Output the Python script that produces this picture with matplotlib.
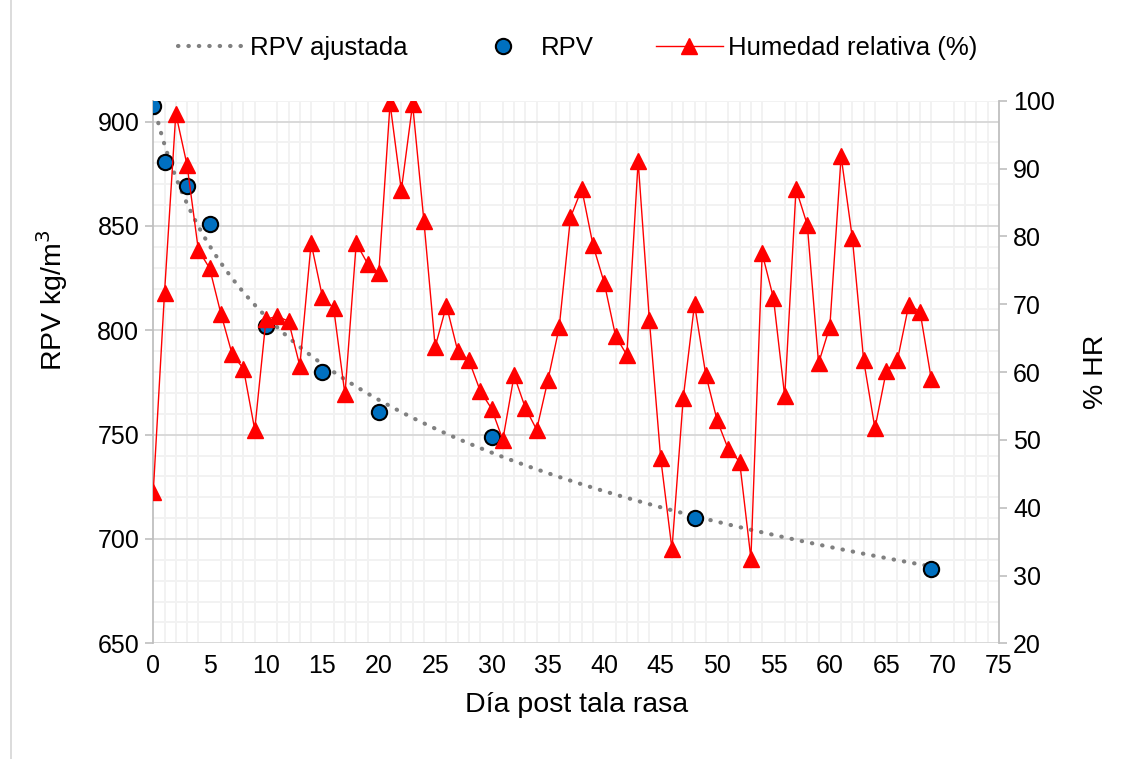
import numpy as np
import matplotlib
matplotlib.use("Agg")
import matplotlib.pyplot as plt
from matplotlib.lines import Line2D

plt.rcParams['font.family'] = ['Liberation Sans', 'DejaVu Sans']

# RPV measurements (kg/m3)
rpv_days = [0, 1, 3, 5, 10, 15, 20, 30, 48, 69]
rpv_vals = [907.6, 880.4, 868.9, 850.8, 802.0, 780.0, 761.0, 749.0, 710.2, 685.4]

# daily relative humidity (%)
hr_days = list(range(0, 70))
hr_vals = [42.3, 71.7, 98.1, 90.5, 78.0, 75.3, 68.6, 62.6, 60.5, 51.5,
           67.8, 68.2, 67.5, 60.9, 79.0, 71.1, 69.4, 56.7, 79.0, 76.0,
           74.6, 99.6, 86.8, 99.5, 82.3, 63.7, 69.8, 63.1, 61.7, 57.2,
           54.6, 50.0, 59.5, 54.7, 51.5, 58.8, 66.6, 82.8, 87.0, 78.7,
           73.1, 65.3, 62.5, 91.1, 67.6, 47.3, 33.9, 56.2, 70.0, 59.6,
           52.9, 48.6, 46.8, 32.5, 77.5, 70.9, 56.4, 87.0, 81.7, 61.3,
           66.7, 91.8, 79.7, 61.7, 51.7, 60.1, 61.8, 69.9, 68.9, 58.9]

# logarithmic trend of RPV, fitted on the measurements
lx = np.log(np.array(rpv_days) + 3.0)
b, a = np.polyfit(lx, rpv_vals, 1)
fit_x = np.linspace(0, 69, 300)
fit_y = a + b * np.log(fit_x + 3.0)

dot_style = (0, (0.1, 2.4))

fig = plt.figure(figsize=(11.26, 7.59), dpi=100)
ax = fig.add_axes([0.1361, 0.1524, 0.8872 - 0.1361, 0.8673 - 0.1524])
ax2 = ax.twinx()

# grid
for v in np.arange(650, 911, 10):
    if v % 50 == 0:
        ax.axhline(v, color='#d9d9d9', lw=1.4, zorder=0.5)
    else:
        ax.axhline(v, color='#f2f2f2', lw=1.4, zorder=0.4)
for d in range(1, 75):
    if d % 5 != 0:
        ax.axvline(d, color='#f2f2f2', lw=1.4, zorder=0.4)

ax.plot(fit_x, fit_y, color='#808080', lw=3.0, linestyle=dot_style,
        dash_capstyle='round', zorder=3)
ax.plot(rpv_days, rpv_vals, 'o', ms=11, mfc='#0070c0', mec='black', mew=1.5,
        zorder=5)
ax2.plot(hr_days, hr_vals, color='#ff0000', lw=1.0, marker='^', ms=11,
         mfc='#ff0000', mec='#ff0000', zorder=4)

ax.set_xlim(0, 75)
ax.set_ylim(650, 910)
ax2.set_ylim(20, 100)
ax.set_xticks(range(0, 76, 5))
ax.set_yticks(range(650, 901, 50))
ax2.set_yticks(range(20, 101, 10))

for s in ['top', 'bottom', 'right']:
    ax.spines[s].set_visible(False)
for s in ['top', 'bottom', 'left']:
    ax2.spines[s].set_visible(False)
ax.spines['left'].set_color('#bfbfbf')
ax.spines['left'].set_linewidth(1.3)
ax2.spines['right'].set_color('#bfbfbf')
ax2.spines['right'].set_linewidth(1.3)

ax.tick_params(axis='y', colors='#bfbfbf', labelcolor='black', labelsize=18,
               length=6, width=1.2, pad=4)
ax.tick_params(axis='x', length=0, labelsize=18, pad=8)
ax2.tick_params(axis='y', colors='#bfbfbf', labelcolor='black', labelsize=18,
                length=6, width=1.2, pad=4)

ax.set_xlabel('Día post tala rasa', fontsize=20.5, labelpad=10)
ax.set_ylabel('RPV kg/m$^3$', fontsize=20.5)
ax.yaxis.set_label_coords(-0.098, 0.633)
ax2.set_ylabel('% HR', fontsize=20.5, labelpad=20)

handles = [
    Line2D([], [], color='#808080', lw=3.0, linestyle=dot_style,
           dash_capstyle='round'),
    Line2D([], [], ls='none', marker='o', ms=11, mfc='#0070c0', mec='black',
           mew=1.5),
    Line2D([], [], color='#ff0000', lw=1.0, marker='^', ms=11, mfc='#ff0000',
           mec='#ff0000'),
]
fig.legend(handles, ['RPV ajustada', 'RPV', 'Humedad relativa (%)'],
           loc='center', bbox_to_anchor=(0.513, 0.937), ncol=3, frameon=False,
           fontsize=18.5, handlelength=2.6, handletextpad=0.2, columnspacing=2.4)

fig.add_artist(Line2D([11 / 1126, 11 / 1126], [0, 1], color='#d9d9d9', lw=1.3))

fig.savefig('out.png', dpi=100)
